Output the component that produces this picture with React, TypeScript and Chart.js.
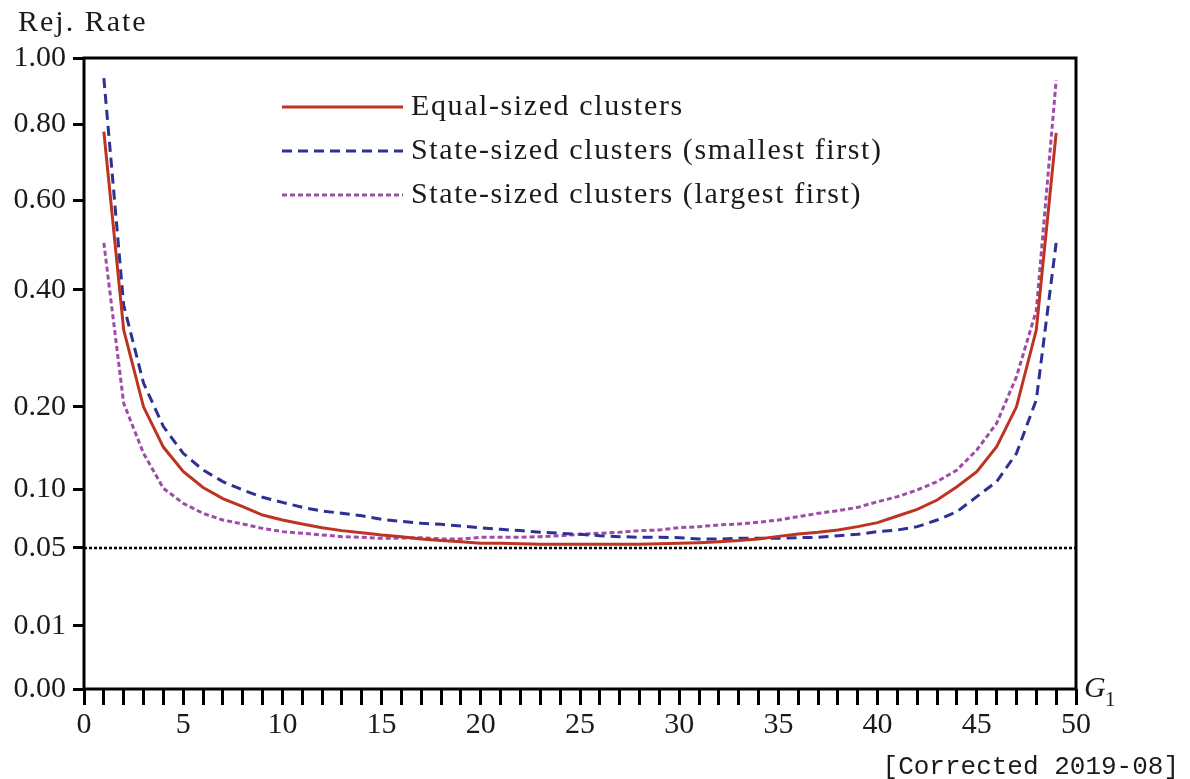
import React, { useEffect, useRef } from "react";
import { Chart, registerables } from "chart.js";

Chart.register(...registerables);

// ---------- data ----------
const g1Values = [
  1, 2, 3, 4, 5, 6, 7, 8, 9, 10, 11, 12, 13, 14, 15, 16, 17, 18, 19, 20, 21, 22, 23, 24, 25,
  26, 27, 28, 29, 30, 31, 32, 33, 34, 35, 36, 37, 38, 39, 40, 41, 42, 43, 44, 45, 46, 47, 48, 49,
];

const equalSized = [
  0.78, 0.324, 0.2, 0.147, 0.119, 0.102, 0.091, 0.0835, 0.076, 0.0717,
  0.0684, 0.0653, 0.063, 0.0614, 0.0596, 0.0583, 0.0565, 0.0553, 0.0545, 0.0533,
  0.0533, 0.053, 0.0526, 0.0526, 0.0526, 0.0526, 0.0526, 0.0526, 0.053, 0.0533,
  0.0538, 0.0545, 0.0553, 0.0565, 0.0585, 0.0603, 0.0617, 0.0635, 0.0662, 0.0695,
  0.0752, 0.0811, 0.0897, 0.1028, 0.1186, 0.1475, 0.2, 0.324, 0.777,
];

const smallestFirst = [
  0.9375, 0.37, 0.235, 0.173, 0.1395, 0.1205, 0.108, 0.0995, 0.0923, 0.0875,
  0.0829, 0.0796, 0.0775, 0.0754, 0.0723, 0.0705, 0.069, 0.0681, 0.0667, 0.0652,
  0.064, 0.063, 0.0618, 0.0609, 0.0601, 0.059, 0.0583, 0.0578, 0.0578, 0.0575,
  0.0565, 0.0565, 0.057, 0.057, 0.057, 0.0575, 0.0578, 0.059, 0.0601, 0.0622,
  0.0635, 0.0662, 0.0717, 0.079, 0.0929, 0.108, 0.1395, 0.21, 0.5,
];

const largestFirst = [
  0.5, 0.205, 0.1395, 0.1012, 0.0866, 0.0775, 0.0717, 0.0684, 0.0648, 0.0622,
  0.0609, 0.0596, 0.0583, 0.0578, 0.057, 0.0572, 0.0575, 0.0565, 0.0565, 0.0578,
  0.0578, 0.0578, 0.0583, 0.059, 0.0601, 0.0609, 0.0617, 0.063, 0.0635, 0.0654,
  0.0662, 0.0676, 0.0684, 0.0698, 0.0717, 0.0746, 0.0775, 0.0799, 0.0829, 0.0881,
  0.0929, 0.0995, 0.108, 0.1205, 0.1435, 0.1773, 0.245, 0.36, 0.93,
];

const seriesNames = [
  "Equal-sized clusters",
  "State-sized clusters (smallest first)",
  "State-sized clusters (largest first)",
];

const yTickValues = [0, 0.01, 0.05, 0.1, 0.2, 0.4, 0.6, 0.8, 1.0];
const yTickLabels = ["0.00", "0.01", "0.05", "0.10", "0.20", "0.40", "0.60", "0.80", "1.00"];
const xLabelStep = 5;
const xMin = 0;
const xMax = 50;
const referenceLevel = 0.05;

const yTitle = "Rej. Rate";
const footnote = "[Corrected 2019-08]";

// ---------- styles ----------
const SERIF = '"Liberation Serif", "Times New Roman", serif';
const MONO = '"Liberation Mono", "DejaVu Sans Mono", monospace';
const INK = "#1a1a1a";

const sqrtPoints = (vals: number[]) =>
  vals.map((v, i) => ({ x: g1Values[i], y: Math.sqrt(v) }));

const overlayPlugin = {
  id: "overlay",
  beforeDatasetsDraw(chart: any) {
    const { ctx, chartArea, scales } = chart;
    const y = scales.y.getPixelForValue(Math.sqrt(referenceLevel));
    ctx.save();
    ctx.strokeStyle = "#000";
    ctx.lineWidth = 2.5;
    ctx.setLineDash([3, 2]);
    ctx.beginPath();
    ctx.moveTo(chartArea.left, y);
    ctx.lineTo(chartArea.right, y);
    ctx.stroke();
    ctx.restore();
  },
  afterDraw(chart: any) {
    const { ctx, chartArea } = chart;
    ctx.save();
    // frame
    ctx.strokeStyle = "#000";
    ctx.lineWidth = 3;
    ctx.setLineDash([]);
    ctx.strokeRect(
      chartArea.left,
      chartArea.top,
      chartArea.right - chartArea.left,
      chartArea.bottom - chartArea.top
    );

    // legend
    const legX0 = 282;
    const legX1 = 403;
    const legTextX = 411;
    const legY0 = 107;
    const legDy = 44;
    chart.data.datasets.forEach((ds: any, i: number) => {
      const y = legY0 + i * legDy;
      ctx.strokeStyle = ds.borderColor;
      ctx.lineWidth = ds.borderWidth;
      ctx.setLineDash(ds.borderDash || []);
      ctx.beginPath();
      ctx.moveTo(legX0, y);
      ctx.lineTo(legX1, y);
      ctx.stroke();
      ctx.setLineDash([]);
      ctx.fillStyle = INK;
      ctx.font = `30px ${SERIF}`;
      (ctx as any).letterSpacing = "1.6px";
      ctx.textAlign = "left";
      ctx.textBaseline = "alphabetic";
      ctx.fillText(ds.label, legTextX, y + 8);
      (ctx as any).letterSpacing = "0px";
    });

    // y title
    ctx.fillStyle = INK;
    ctx.font = `30px ${SERIF}`;
    (ctx as any).letterSpacing = "2px";
    ctx.textAlign = "left";
    ctx.textBaseline = "alphabetic";
    ctx.fillText(yTitle, 18, 31);
    (ctx as any).letterSpacing = "0px";

    // x title G_1
    ctx.font = `italic 30px ${SERIF}`;
    ctx.fillText("G", chartArea.right + 8, chartArea.bottom + 8);
    ctx.font = `21px ${SERIF}`;
    ctx.fillText("1", chartArea.right + 29, chartArea.bottom + 17);

    // footnote
    ctx.font = `26px ${MONO}`;
    ctx.textAlign = "right";
    ctx.fillText(footnote, 1179, 774);
    ctx.restore();
  },
};

export default function App() {
  const canvasRef = useRef<HTMLCanvasElement | null>(null);

  useEffect(() => {
    const canvas = canvasRef.current;
    if (!canvas) return;
    const chart = new Chart(canvas, {
      type: "line",
      data: {
        datasets: [
          {
            label: seriesNames[0],
            data: sqrtPoints(equalSized),
            borderColor: "#bf3322",
            borderWidth: 3,
            borderDash: [],
            pointRadius: 0,
            tension: 0,
            fill: false,
          },
          {
            label: seriesNames[1],
            data: sqrtPoints(smallestFirst),
            borderColor: "#2e3192",
            borderWidth: 3,
            borderDash: [10, 6],
            pointRadius: 0,
            tension: 0,
            fill: false,
          },
          {
            label: seriesNames[2],
            data: sqrtPoints(largestFirst),
            borderColor: "#9d4ca8",
            borderWidth: 3,
            borderDash: [5, 3],
            pointRadius: 0,
            tension: 0,
            fill: false,
          },
        ],
      },
      options: {
        responsive: false,
        animation: false,
        events: [],
        layout: { padding: { top: 58, right: 114, bottom: 0, left: 0 } },
        plugins: {
          legend: { display: false },
          tooltip: { enabled: false },
        },
        scales: {
          x: {
            type: "linear",
            min: xMin,
            max: xMax,
            afterFit: (scale: any) => {
              scale.height = 90;
            },
            border: { display: false },
            grid: {
              drawOnChartArea: false,
              drawTicks: true,
              tickLength: 16,
              tickWidth: 3,
              lineWidth: 3,
              tickColor: "#000",
              color: "#000",
            },
            ticks: {
              stepSize: 1,
              autoSkip: false,
              maxRotation: 0,
              minRotation: 0,
              padding: 2,
              color: INK,
              font: { family: SERIF, size: 30 },
              callback: (v: any) => (Number(v) % xLabelStep === 0 ? String(v) : ""),
            },
          },
          y: {
            type: "linear",
            min: 0,
            max: 1,
            afterFit: (scale: any) => {
              scale.width = 84;
            },
            afterBuildTicks: (scale: any) => {
              scale.ticks = yTickValues.map((v) => ({ value: Math.sqrt(v) }));
            },
            border: { display: false },
            grid: {
              drawOnChartArea: false,
              drawTicks: true,
              tickLength: 11,
              tickWidth: 3,
              lineWidth: 3,
              tickColor: "#000",
              color: "#000",
            },
            ticks: {
              padding: 7,
              color: INK,
              font: { family: SERIF, size: 30 },
              callback: (_v: any, index: number) => yTickLabels[index],
            },
          },
        },
      },
      plugins: [overlayPlugin],
    } as any);
    return () => chart.destroy();
  }, []);

  return (
    <div style={{ position: "absolute", left: 0, top: 0, width: 1190, height: 779, background: "#fff" }}>
      <canvas ref={canvasRef} width={1190} height={779} style={{ width: 1190, height: 779, display: "block" }} />
    </div>
  );
}
